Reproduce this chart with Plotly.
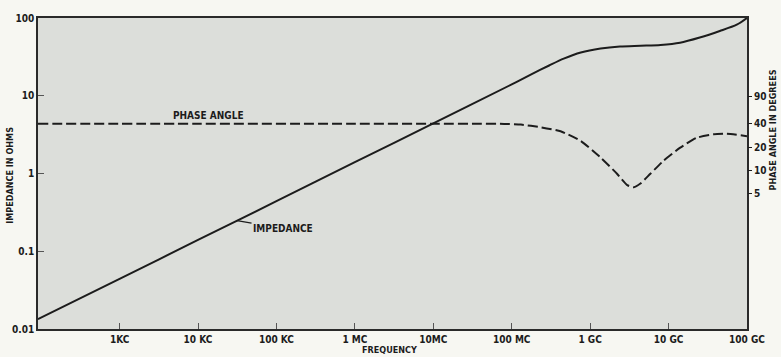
import plotly.graph_objects as go

# Impedance of the line versus frequency (ohms)
imp_freq_hz = [91, 1e3, 1e4, 1e5, 1e6, 1e7, 1e8, 1.8e8, 3.0e8, 4.6e8, 7.6e8, 1.36e9,
               2.4e9, 4.4e9, 7.9e9, 1.4e10, 2.5e10, 4.5e10, 7.4e10, 1e11]
impedance_ohms = [0.0134, 0.044, 0.14, 0.44, 1.4, 4.4, 14, 19, 24.5, 30, 36, 40.5,
                  43, 44, 45, 48, 56, 68, 82, 100]

# Phase angle versus frequency (degrees)
phase_freq_hz = [91, 1e4, 1e6, 1e7, 4e7, 8e7, 1.31e8, 2.35e8, 4.2e8, 7.6e8, 1.36e9,
                 2.2e9, 2.97e9, 3.6e9, 4.38e9, 5.86e9, 8.65e9, 1.41e10, 2.29e10,
                 3.73e10, 5.52e10, 1e11]
phase_deg = [40, 40, 40, 40, 40, 39.8, 39, 36, 32, 24, 14.7,
             9.1, 6.5, 6.1, 6.8, 9.1, 13.4, 19.7, 26.4,
             29.2, 29.7, 27.7]

# Axis ticks
freq_ticks = [1e3, 1e4, 1e5, 1e6, 1e7, 1e8, 1e9, 1e10, 1e11]
freq_labels = ["1KC", "10 KC", "100 KC", "1 MC", "10MC", "100 MC", "1 GC", "10 GC", "100 GC"]
imp_ticks = [0.01, 0.1, 1, 10, 100]
imp_labels = ["0.01", "0.1", "1", "10", "100"]
phase_ticks = [5, 10, 20, 40, 90]
phase_labels = ["5", "10", "20", "40", "90"]

FONT = "Liberation Sans Narrow, DejaVu Sans Condensed, Liberation Sans, sans-serif"
INK = "#1c1c1c"

fig = go.Figure()

fig.add_trace(go.Scatter(
    x=imp_freq_hz, y=impedance_ohms, mode="lines",
    line=dict(color=INK, width=2, shape="spline", smoothing=0.8),
    showlegend=False, hoverinfo="skip",
))

fig.add_trace(go.Scatter(
    x=phase_freq_hz, y=phase_deg, mode="lines", yaxis="y2",
    line=dict(color=INK, width=2, dash="10px,4px", shape="spline", smoothing=0.5),
    showlegend=False, hoverinfo="skip",
))

tickfont = dict(family=FONT, size=10, color=INK, weight="bold")

fig.update_layout(
    width=781, height=357,
    margin=dict(l=35, r=34, t=15, b=26),
    paper_bgcolor="#f7f7f2",
    plot_bgcolor="#dcdeda",
    xaxis=dict(
        type="log", range=[1.96, 11],
        tickvals=freq_ticks, ticktext=freq_labels,
        ticks="inside", ticklen=6, tickwidth=1.2, tickcolor="#555",
        tickfont=tickfont,
        showgrid=False, zeroline=False,
        showline=True, mirror=True, linecolor="#2a2a2a", linewidth=1.6,
    ),
    yaxis=dict(
        type="log", range=[-2, 2],
        tickvals=imp_ticks, ticktext=imp_labels,
        ticks="inside", ticklen=6, tickwidth=1.2, tickcolor="#555",
        tickfont=tickfont,
        showgrid=False, zeroline=False,
        showline=True, mirror=True, linecolor="#2a2a2a", linewidth=1.6,
    ),
    yaxis2=dict(
        type="log", range=[-1.038, 2.962], overlaying="y", side="right",
        tickvals=phase_ticks, ticktext=phase_labels,
        ticks="outside", ticklen=4, tickwidth=1.4, tickcolor=INK,
        tickfont=tickfont,
        showgrid=False, zeroline=False, showline=False,
    ),
)

fig.add_annotation(
    text="FREQUENCY", xref="paper", yref="paper", x=0.496, y=-0.066,
    xanchor="center", yanchor="middle", showarrow=False,
    font=dict(family=FONT, size=9, color=INK, weight="bold"),
)
fig.add_annotation(
    text="IMPEDANCE IN OHMS", xref="paper", yref="paper", x=-0.03, y=0.495,
    xanchor="right", yanchor="middle", textangle=-90, showarrow=False,
    font=dict(family=FONT, size=9, color=INK, weight="bold"),
)
fig.add_annotation(
    text="PHASE ANGLE IN DEGREES", xref="paper", yref="paper", x=1.036, y=0.64,
    xanchor="center", yanchor="middle", textangle=-90, showarrow=False,
    font=dict(family=FONT, size=9, color=INK, weight="bold"),
)
fig.add_annotation(
    text="PHASE ANGLE", xref="paper", yref="paper", x=0.24, y=0.685,
    xanchor="center", yanchor="middle", showarrow=False,
    font=dict(family=FONT, size=10, color=INK, weight="bold"),
)
fig.add_annotation(
    text="IMPEDANCE", x=4.498, y=-0.605, xref="x", yref="y",
    ax=46, ay=8, showarrow=True, arrowhead=0, arrowwidth=1.2, arrowcolor=INK,
    font=dict(family=FONT, size=10, color=INK, weight="bold"),
)

fig.write_html("out.html")
